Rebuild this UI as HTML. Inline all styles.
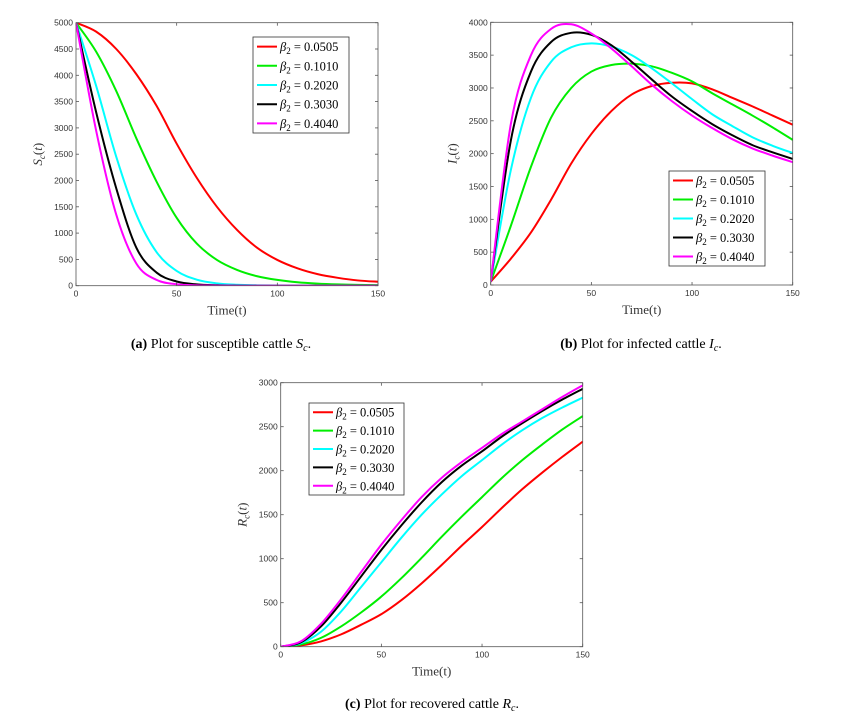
<!DOCTYPE html>
<html><head><meta charset="utf-8">
<style>
body{margin:0;background:#fff;width:851px;height:720px;overflow:hidden}
svg{display:block}
.tk{font-family:"Liberation Sans",sans-serif;font-size:8.5px;fill:#333}
.lab{font-family:"Liberation Serif",serif;font-size:13px;fill:#333}
.cap{font-family:"Liberation Serif",serif;font-size:14px;fill:#000}
.lg{font-family:"Liberation Serif",serif;font-size:12.5px;fill:#000}
</style></head><body>
<svg id="svg" width="851" height="720"></svg>
<script>
const times=[0,10,20,30,40,50,60,70,80,90,100,110,120,130,140,150];
const seriesLabels=["0.0505","0.1010","0.2020","0.3030","0.4040"];
const seriesColors=["#ff0000","#00ee00","#00ffff","#000000","#ff00ff"];
const xTicks=[0,50,100,150];
const sYTicks=[0,500,1000,1500,2000,2500,3000,3500,4000,4500,5000];
const iYTicks=[0,500,1000,1500,2000,2500,3000,3500,4000];
const rYTicks=[0,500,1000,1500,2000,2500,3000];
const S_red=[5000,4830,4500,4020,3420,2700,2050,1500,1060,720,490,330,220,150,100,75];
const S_green=[5000,4450,3700,2800,1980,1290,800,490,300,180,110,65,40,25,15,10];
const S_cyan=[5000,3800,2450,1350,640,280,115,45,18,7,3,1,0,0,0,0];
const S_black=[5000,3300,1850,720,250,80,25,8,2,0,0,0,0,0,0,0];
const S_magenta=[5000,2950,1350,420,110,28,7,2,0,0,0,0,0,0,0,0];
const I_red=[50,400,800,1300,1850,2300,2650,2900,3030,3080,3070,2980,2850,2720,2580,2440];
const I_green=[50,900,1800,2550,3000,3250,3350,3370,3330,3230,3100,2920,2750,2580,2400,2210];
const I_cyan=[50,1750,2850,3400,3620,3680,3630,3500,3300,3070,2830,2600,2420,2250,2120,2010];
const I_black=[50,2200,3250,3700,3840,3810,3650,3400,3130,2870,2650,2450,2280,2130,2020,1920];
const I_magenta=[50,2450,3500,3900,3970,3830,3600,3330,3050,2800,2580,2390,2220,2080,1970,1870];
const R_red=[0,15,60,140,250,370,530,720,930,1150,1360,1580,1790,1980,2160,2330];
const R_green=[0,25,100,230,390,570,780,1010,1250,1480,1700,1920,2120,2300,2470,2620];
const R_cyan=[0,40,170,400,680,960,1240,1500,1730,1940,2120,2300,2460,2600,2720,2830];
const R_black=[0,50,230,500,800,1100,1380,1640,1870,2060,2220,2390,2540,2680,2810,2930];
const R_magenta=[0,60,260,540,850,1160,1440,1700,1920,2100,2260,2420,2560,2700,2840,2970];

const NS="http://www.w3.org/2000/svg";
const svg=document.getElementById('svg');
function mk(tag,attrs,parent){const e=document.createElementNS(NS,tag);for(const k in attrs)e.setAttribute(k,attrs[k]);(parent||svg).appendChild(e);return e;}
function smooth(pts){let d="M"+pts[0][0]+","+pts[0][1];for(let i=0;i<pts.length-1;i++){const p0=pts[Math.max(0,i-1)],p1=pts[i],p2=pts[i+1],p3=pts[Math.min(pts.length-1,i+2)];
const c1=[p1[0]+(p2[0]-p0[0])/6,p1[1]+(p2[1]-p0[1])/6],c2=[p2[0]-(p3[0]-p1[0])/6,p2[1]-(p3[1]-p1[1])/6];
d+=" C"+c1[0].toFixed(2)+","+c1[1].toFixed(2)+" "+c2[0].toFixed(2)+","+c2[1].toFixed(2)+" "+p2[0].toFixed(2)+","+p2[1].toFixed(2);}return d;}

function panel(o){
  const g=mk('g',{});
  
  
  const xs=v=>o.x0+(v/150)*(o.x1-o.x0);
  const ys=v=>o.y0-(v/o.ymax)*(o.y0-o.y1);
  const clipId=o.name+"-clip";
  const cp=mk('clipPath',{id:clipId},g);mk('rect',{x:o.x0,y:o.y1,width:o.x1-o.x0,height:o.y0-o.y1},cp);
  o.series.forEach((arr,i)=>{
    const p=mk('path',{d:smooth(arr.map((v,j)=>[xs(times[j]),ys(v)])),fill:'none',stroke:seriesColors[i],'stroke-width':2,'clip-path':'url(#'+clipId+')'},g);
    
    
  });
  const box=mk('rect',{x:o.x0,y:o.y1,width:o.x1-o.x0,height:o.y0-o.y1,fill:'none',stroke:'#555','stroke-width':0.8},g);
  
  
  xTicks.forEach(t=>{const x=xs(t);
    mk('line',{x1:x,x2:x,y1:o.y0,y2:o.y0-3,stroke:'#555','stroke-width':0.8},g);
    mk('line',{x1:x,x2:x,y1:o.y1,y2:o.y1+3,stroke:'#555','stroke-width':0.8},g);
    const tx=mk('text',{x:x,y:o.y0+11,'text-anchor':'middle',class:'tk'},g);tx.textContent=t;
    
    
  });
  o.yticks.forEach(t=>{const y=ys(t);
    mk('line',{x1:o.x0,x2:o.x0+3,y1:y,y2:y,stroke:'#555','stroke-width':0.8},g);
    mk('line',{x1:o.x1,x2:o.x1-3,y1:y,y2:y,stroke:'#555','stroke-width':0.8},g);
    const tx=mk('text',{x:o.x0-3,y:y+3,'text-anchor':'end',class:'tk'},g);tx.textContent=t;
    
    
  });
  const xl=mk('text',{x:(o.x0+o.x1)/2,y:o.y0+29,'text-anchor':'middle',class:'lab'},g);xl.textContent='Time(t)';
  
  
  const yl=mk('text',{x:0,y:0,'text-anchor':'middle',class:'lab',transform:'translate('+(o.x0-34)+','+((o.y0+o.y1)/2)+') rotate(-90)'},g);
  yl.innerHTML='<tspan font-style="italic">'+o.yv+'</tspan><tspan font-style="italic" font-size="9" dy="3">c</tspan><tspan dy="-3">(</tspan><tspan font-style="italic">t</tspan>)';
  
  
  const L=o.leg;
  const lg=mk('g',{},g);
  
  
  mk('rect',{x:L[0],y:L[1],width:L[2]-L[0],height:L[3]-L[1],fill:'#fff',stroke:'#333','stroke-width':0.8},lg);
  const step=(L[3]-L[1])/5;
  seriesLabels.forEach((s,i)=>{const y=L[1]+step*(i+0.5);
    const e=mk('g',{},lg);
    
    
    mk('line',{x1:L[0]+4,x2:L[0]+24,y1:y,y2:y,stroke:seriesColors[i],'stroke-width':2},e);
    const t=mk('text',{x:L[0]+27,y:y+4.5,class:'lg'},e);
    t.innerHTML='<tspan font-style="italic">β</tspan><tspan font-size="9" dy="3">2</tspan><tspan dy="-3"> = '+s+'</tspan>';
  });
  const c=mk('text',{x:o.cap[0],y:o.cap[1],'text-anchor':'middle',class:'cap'},g);
  c.innerHTML='<tspan font-weight="bold">('+o.letter+')</tspan> Plot for '+o.capText+' <tspan font-style="italic">'+o.yv+'</tspan><tspan font-style="italic" font-size="10" dy="3">c</tspan><tspan dy="-3">.</tspan>';
  
  
}
panel({name:'panel-susceptible',x0:76,x1:378,y0:285.7,y1:22.7,ymax:5000,yticks:sYTicks,series:[S_red,S_green,S_cyan,S_black,S_magenta],yv:'S',leg:[253,37,349,133],cap:[221,348],letter:'a',capText:'susceptible cattle'});
panel({name:'panel-infected',x0:490.7,x1:792.7,y0:285,y1:22.3,ymax:4000,yticks:iYTicks,series:[I_red,I_green,I_cyan,I_black,I_magenta],yv:'I',leg:[669,171,765,266],cap:[641,348],letter:'b',capText:'infected cattle'});
panel({name:'panel-recovered',x0:280.7,x1:582.7,y0:646.7,y1:382.7,ymax:3000,yticks:rYTicks,series:[R_red,R_green,R_cyan,R_black,R_magenta],yv:'R',leg:[309,403,404,495],cap:[432,708],letter:'c',capText:'recovered cattle'});
</script>
</body></html>
